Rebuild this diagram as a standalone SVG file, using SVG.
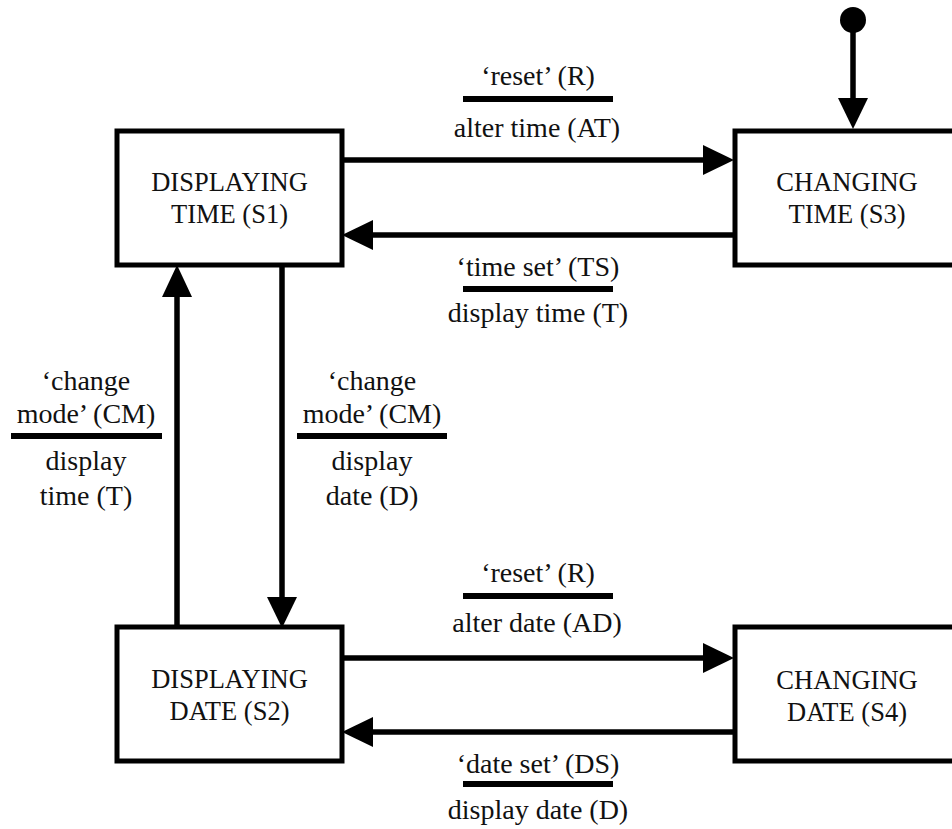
<svg xmlns="http://www.w3.org/2000/svg" width="952" height="829" viewBox="0 0 952 829">
<style>
.box{fill:#fff;stroke:#000;stroke-width:5}
.ln{fill:none;stroke:#000;stroke-width:5.5}
.bar{stroke:#000;stroke-width:6}
.hd{fill:#000;stroke:none}
text{font-family:"Liberation Serif","DejaVu Serif",serif;font-size:28px;fill:#111;text-anchor:middle}
.bt{font-size:26.5px}
</style>
<rect width="952" height="829" fill="#fff"/>
<g id="s1"><rect class="box" x="117" y="131" width="225" height="134"/><text class="bt" x="229.5" y="191">DISPLAYING</text><text class="bt" x="229.5" y="223">TIME (S1)</text></g>
<g id="s3"><rect class="box" x="735" y="131" width="225" height="134"/><text class="bt" x="847" y="191">CHANGING</text><text class="bt" x="847" y="223">TIME (S3)</text></g>
<g id="s2"><rect class="box" x="117" y="627" width="225" height="134"/><text class="bt" x="229.5" y="688">DISPLAYING</text><text class="bt" x="229.5" y="720">DATE (S2)</text></g>
<g id="s4"><rect class="box" x="735" y="627" width="225" height="134"/><text class="bt" x="847" y="689">CHANGING</text><text class="bt" x="847" y="721">DATE (S4)</text></g>
<g id="init"><circle cx="853" cy="20" r="13" fill="#000"/></g>
<g id="connectors">
<line class="ln" x1="853" y1="25" x2="853" y2="100"/><polygon class="hd" points="838,98 853,129 868,98"/>
<line class="ln" x1="342" y1="160" x2="705" y2="160"/><polygon class="hd" points="703,145 734,160 703,175"/>
<line class="ln" x1="735" y1="235" x2="371" y2="235"/><polygon class="hd" points="373,220 342,235 373,250"/>
<line class="ln" x1="342" y1="658" x2="705" y2="658"/><polygon class="hd" points="703,643 734,658 703,673"/>
<line class="ln" x1="735" y1="732" x2="371" y2="732"/><polygon class="hd" points="373,717 342,732 373,747"/>
<line class="ln" x1="177" y1="627" x2="177" y2="295"/><polygon class="hd" points="162,297 177,265 192,297"/>
<line class="ln" x1="282" y1="265" x2="282" y2="599"/><polygon class="hd" points="267,597 282,628 297,597"/>
</g>
<g id="labels">
<text x="538" y="85">&#8216;reset&#8217; (R)</text><line class="bar" x1="463" y1="99" x2="613" y2="99"/><text x="537" y="137">alter time (AT)</text>
<text x="538" y="276">&#8216;time set&#8217; (TS)</text><line class="bar" x1="463" y1="289" x2="613" y2="289"/><text x="538" y="322">display time (T)</text>
<text x="538" y="582">&#8216;reset&#8217; (R)</text><line class="bar" x1="463" y1="596" x2="613" y2="596"/><text x="537" y="632">alter date (AD)</text>
<text x="538" y="773">&#8216;date set&#8217; (DS)</text><line class="bar" x1="463" y1="784" x2="613" y2="784"/><text x="538" y="819">display date (D)</text>
<text x="86" y="390">&#8216;change</text><text x="86" y="423">mode&#8217; (CM)</text><line class="bar" x1="11" y1="436" x2="162" y2="436"/><text x="86" y="470">display</text><text x="86" y="505">time (T)</text>
<text x="372" y="390">&#8216;change</text><text x="372" y="423">mode&#8217; (CM)</text><line class="bar" x1="297" y1="436" x2="447" y2="436"/><text x="372" y="470">display</text><text x="372" y="505">date (D)</text>
</g>
</svg>
